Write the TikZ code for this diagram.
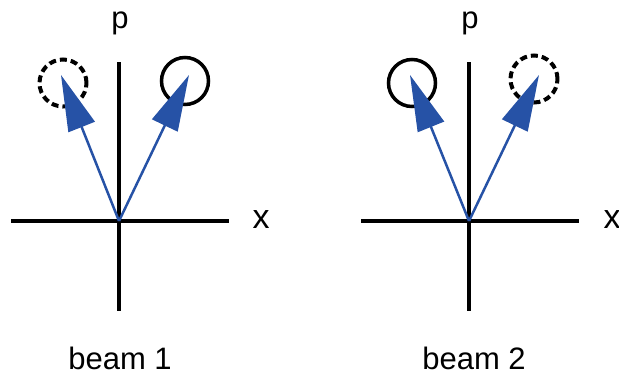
\documentclass[tikz,border=0pt]{standalone}
\usepackage{fontspec}
\setmainfont{Liberation Sans}
\usepackage{tikz}
\usetikzlibrary{arrows.meta}
\definecolor{BeamBlue}{RGB}{38,82,166}
\tikzset{
  axis/.style={draw=black,line width=4pt},
  vec/.style={draw=BeamBlue,line width=2.5pt,-{Triangle[length=56pt,width=28pt]}},
  ring/.style={circle,draw=black,line width=3.5pt,minimum size=47pt,inner sep=0pt},
  ghost/.style={ring,line width=4pt,dash pattern=on 7pt off 4pt},
  lbl/.style={anchor=base,inner sep=0pt,font=\fontsize{31}{36}\selectfont},
}

\begin{document}
\begin{tikzpicture}[x=1pt,y=-1pt]
\useasboundingbox (0,0) rectangle (619,375);
% beam 1
\coordinate (o1) at (119,221);
\coordinate (l1) at (11,221);
\coordinate (r1) at (229,221);
\coordinate (u1) at (119,62);
\coordinate (d1) at (119,311);
\coordinate (t1a) at (61,75);
\coordinate (t1b) at (189,75);
\draw[axis] (l1)--(r1);
\draw[axis] (u1)--(d1);
\node[ghost] (c1a) at (63,83) {};
\node[ring] (c1b) at (185,81) {};
\draw[vec] (o1)--(t1a);
\draw[vec] (o1)--(t1b);
\node[lbl] (p1) at (120,28) {p};
\node[lbl,font=\fontsize{34}{40}\selectfont] (x1) at (261,228) {x};
\node[lbl] (b1) at (120,369) {beam 1};
% beam 2
\coordinate (o2) at (469,221);
\coordinate (l2) at (361,221);
\coordinate (r2) at (579,221);
\coordinate (u2) at (469,62);
\coordinate (d2) at (469,311);
\coordinate (t2a) at (410,75);
\coordinate (t2b) at (539,75);
\draw[axis] (l2)--(r2);
\draw[axis] (u2)--(d2);
\node[ring] (c2a) at (412,83) {};
\node[ghost] (c2b) at (534,79) {};
\draw[vec] (o2)--(t2a);
\draw[vec] (o2)--(t2b);
\node[lbl] (p2) at (470,28) {p};
\node[lbl,font=\fontsize{34}{40}\selectfont] (x2) at (612,228) {x};
\node[lbl] (b2) at (474,369) {beam 2};
\end{tikzpicture}
\end{document}
